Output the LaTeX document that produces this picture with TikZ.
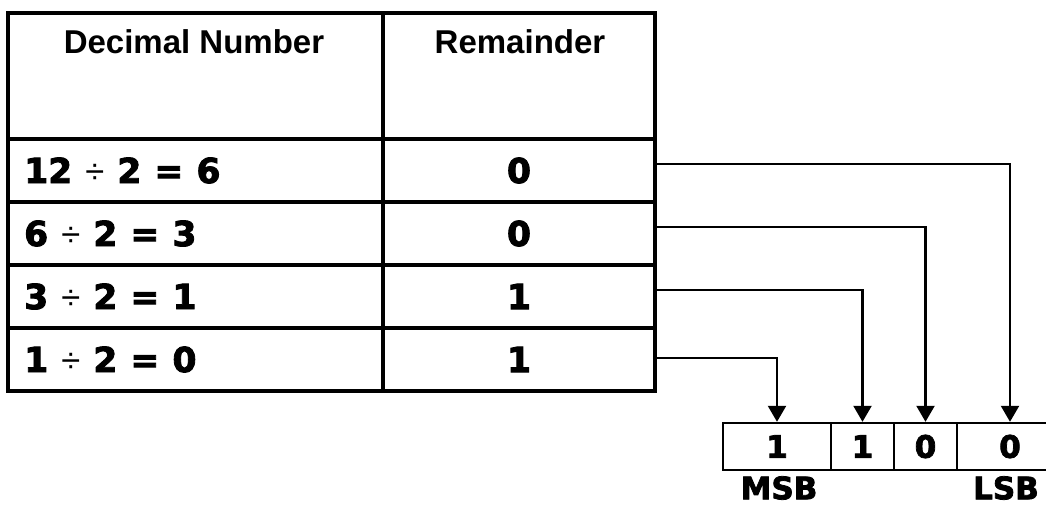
\documentclass[tikz,border=0pt]{standalone}
\usepackage{fontspec}
\setmainfont{Liberation Sans}
\newfontfamily\blk[FakeBold=2.5]{DejaVu Sans Bold}
\newcommand{\dv}{\hspace{0.38em}{\rmfamily\mdseries ÷}\hspace{0.38em}}
\newcommand{\eqs}{\hspace{0.38em}=\hspace{0.38em}}
\usetikzlibrary{arrows.meta}
\begin{document}
\begin{tikzpicture}[x=1pt,y=-1pt,
  gridline/.style={line width=3.2pt},
  hdr/.style={font=\fontsize{33}{36}\selectfont\bfseries, inner sep=0pt},
  val/.style={font=\blk\fontsize{34.5}{40}\selectfont, inner sep=0pt},
  remcell/.style={val, minimum width=272pt, minimum height=63pt},
  bitcell/.style={draw, line width=2.4pt, minimum height=47pt, inner sep=0pt, font=\blk\fontsize{31}{34}\selectfont},
  lbl/.style={font=\blk\fontsize{31}{34}\selectfont, inner sep=0pt},
  conn/.style={line width=2.2pt, -{Triangle[length=16pt,width=18pt]}}]
\useasboundingbox (0,0) rectangle (1046,506);
\fill[white] (0,0) rectangle (1046,506);
% table grid
\draw[gridline] (8,13) rectangle (655,391);
\draw[gridline] (383,13) -- (383,391);
\foreach \y in {139,202,265,328} \draw[gridline] (8,\y) -- (655,\y);
% header
\node[hdr] (h1) at (194,42) {Decimal Number};
\node[hdr] (h2) at (520,42) {Remainder};
% rows
\node[val, anchor=west] (d1) at (24,170.5) {12\dv2\eqs6};
\node[val, anchor=west] (d2) at (24,233.5) {6\dv2\eqs3};
\node[val, anchor=west] (d3) at (24,296.5) {3\dv2\eqs1};
\node[val, anchor=west] (d4) at (24,359.5) {1\dv2\eqs0};
\node[remcell] (r1) at (519,170.5) {0};
\node[remcell] (r2) at (519,233.5) {0};
\node[remcell] (r3) at (519,296.5) {1};
\node[remcell] (r4) at (519,359.5) {1};
% bit boxes
\node[bitcell, minimum width=108pt] (b1) at (777,446.5) {1};
\node[bitcell, minimum width=63pt] (b2) at (862.5,446.5) {1};
\node[bitcell, minimum width=63pt] (b3) at (925.5,446.5) {0};
\node[bitcell, minimum width=106pt] (b4) at (1010,446.5) {0};
\node[lbl] (msb) at (779,488) {MSB};
\node[lbl] (lsb) at (1006,488) {LSB};
% connectors
\draw[conn] ([yshift=6.5pt]r1.east) -| (b4.north);
\draw[conn] ([yshift=6.5pt]r2.east) -| (b3.north);
\draw[conn] ([yshift=6.5pt]r3.east) -| (b2.north);
\draw[conn] ([yshift=1.5pt]r4.east) -| (b1.north);
\end{tikzpicture}
\end{document}
